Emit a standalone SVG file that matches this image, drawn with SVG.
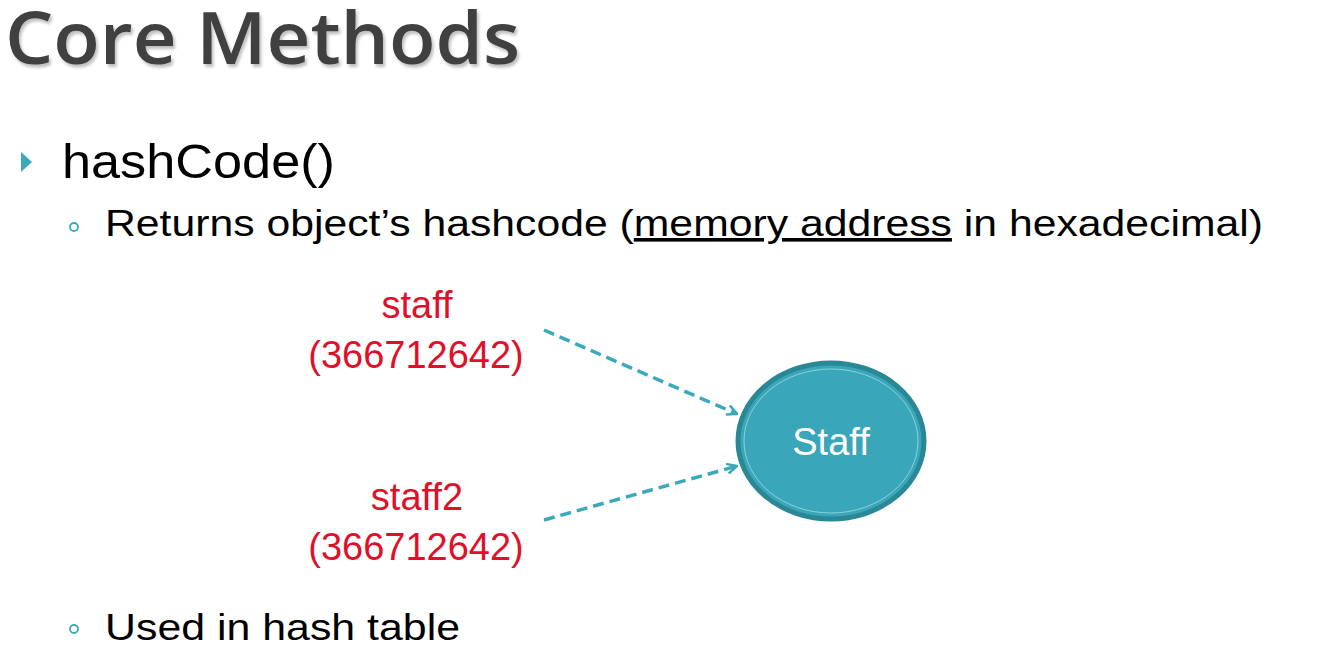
<svg xmlns="http://www.w3.org/2000/svg" width="1323" height="659" viewBox="0 0 1323 659">
<defs>
<style>
.title{font-family:"Open Sans","Noto Sans",sans-serif;font-size:72px;font-weight:600;fill:#404040}
.body{font-family:"Liberation Sans",Arial,sans-serif;fill:#000}
.red{font-family:"Liberation Sans",Arial,sans-serif;font-size:38px;fill:#e0102a;text-anchor:middle}
.sub{fill:none;stroke:#3aa9bc;stroke-width:1.8}
.conn{fill:none;stroke:#3aa9bc;stroke-width:3.5;stroke-dasharray:11 6}
</style>
<filter id="sh" x="-5%" y="-20%" width="110%" height="150%">
<feDropShadow dx="2" dy="3" stdDeviation="1.5" flood-color="#000" flood-opacity="0.25"/>
</filter>
<marker id="arr" viewBox="0 0 12 12" refX="11" refY="6" markerWidth="12" markerHeight="12" markerUnits="userSpaceOnUse" orient="auto">
<path d="M1,1 L11,6 L1,11" fill="none" stroke="#3aa9bc" stroke-width="2.5"/>
</marker>
</defs>
<rect width="1323" height="659" fill="#fff"/>
<g id="title">
<text class="title" x="5" y="64" textLength="515" lengthAdjust="spacingAndGlyphs" filter="url(#sh)">Core Methods</text>
</g>
<g id="bullets">
<path d="M21,152 L32,162 L21,172 Z" fill="#3aa9bc"/>
<text class="body" x="62" y="178" font-size="49" textLength="273" lengthAdjust="spacingAndGlyphs">hashCode()</text>
<circle class="sub" cx="74" cy="227" r="4"/>
<text class="body" x="105" y="236" font-size="36" textLength="1158" lengthAdjust="spacingAndGlyphs">Returns object’s hashcode (<tspan text-decoration="underline">memory address</tspan> in hexadecimal)</text>
<circle class="sub" cx="74" cy="629" r="4"/>
<text class="body" x="105" y="640" font-size="36" textLength="355" lengthAdjust="spacingAndGlyphs">Used in hash table</text>
</g>
<g id="label-staff">
<text class="red" x="417" y="318">staff</text>
<text class="red" x="416" y="368">(366712642)</text>
</g>
<g id="label-staff2">
<text class="red" x="417" y="510">staff2</text>
<text class="red" x="416" y="560">(366712642)</text>
</g>
<g id="node-staff">
<ellipse cx="831" cy="441" rx="93" ry="78" fill="#3aa6b9" stroke="#2a8796" stroke-width="5"/>
<ellipse cx="831" cy="441" rx="87" ry="72" fill="none" stroke="#8fd0dc" stroke-width="1"/>
<text x="831" y="455" font-family="'Liberation Sans',Arial,sans-serif" font-size="38" fill="#fff" text-anchor="middle">Staff</text>
</g>
<g id="connectors">
<line class="conn" x1="544" y1="330" x2="737" y2="414" marker-end="url(#arr)"/>
<line class="conn" x1="544" y1="520" x2="737" y2="466" marker-end="url(#arr)"/>
</g>
</svg>
